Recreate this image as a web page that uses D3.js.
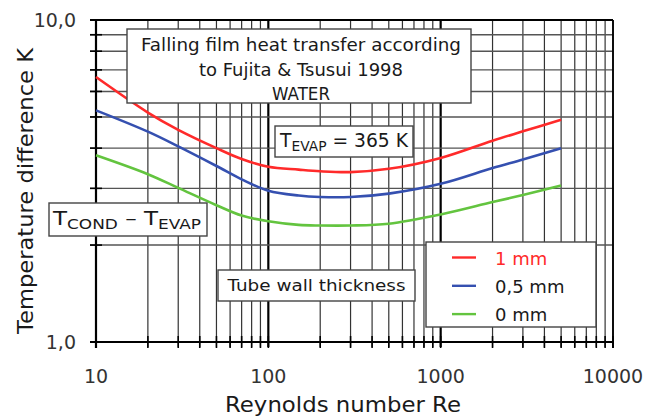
<!DOCTYPE html>
<html lang="en">
<head>
    <meta charset="UTF-8">
    <title>Falling film heat transfer</title>
    <script src="https://d3js.org/d3.v7.min.js"></script>
    <style>
        body { margin: 0; background: #fff; }
        text { font-family: "DejaVu Sans", sans-serif; fill: #1a1a1a; }
        .grid line { stroke: #333; stroke-width: 1.2; }
        .box { fill: #fff; stroke: #444; stroke-width: 1.4; }
    </style>
</head>
<body>
    <svg width="658" height="419"></svg>
    <script>
        // Reynolds numbers
        const reynolds = [10, 20, 30, 50, 70, 100, 150, 200, 300, 500, 1000, 2000, 3000, 5000];
        // temperature difference K for each tube wall thickness
        const wall1mm  = [6.65, 5.16, 4.56, 4.00, 3.70, 3.50, 3.43, 3.39, 3.37, 3.45, 3.73, 4.22, 4.51, 4.90];
        const wall05mm = [5.24, 4.50, 4.05, 3.52, 3.20, 2.95, 2.85, 2.82, 2.82, 2.89, 3.10, 3.47, 3.69, 4.00];
        const wall0mm  = [3.80, 3.32, 3.01, 2.66, 2.47, 2.37, 2.31, 2.30, 2.30, 2.33, 2.49, 2.72, 2.86, 3.06];

        const seriesNames = ["1 mm", "0,5 mm", "0 mm"];
        const seriesColors = ["#ff2a2a", "#3550b0", "#63c43f"];
        const xTickLabels = ["10", "100", "1000", "10000"];
        const yTickLabels = ["1,0", "10,0"];

        const svg = d3.select("svg");
        const x = d3.scaleLog().domain([10, 10000]).range([96, 613]);
        const y = d3.scaleLog().domain([1, 10]).range([342, 20]);

        // grid values: 1..9 in every decade
        const xGrid = [];
        for (let d = 10; d < 10000; d *= 10) for (let k = 1; k <= 9; k++) xGrid.push(d * k);
        xGrid.push(10000);
        const yGrid = [1, 2, 3, 4, 5, 6, 7, 8, 9, 10];

        const grid = svg.append("g").attr("class", "grid");
        grid.selectAll(".v").data(xGrid).join("line")
            .attr("x1", d => x(d)).attr("x2", d => x(d))
            .attr("y1", y(10)).attr("y2", y(1) + 5)
            .style("stroke-width", d => [100, 1000].includes(d) ? 2.2 : 1.2)
            .style("stroke", d => [100, 1000].includes(d) ? "#000" : "#333");
        grid.selectAll(".h").data(yGrid).join("line")
            .attr("x1", x(10) - 6).attr("x2", x(10000))
            .attr("y1", d => y(d)).attr("y2", d => y(d))
            .style("stroke", "#555").style("stroke-width", 1.4);

        // ticks
        svg.append("g").selectAll("line").data(yGrid).join("line")
            .attr("x1", x(10) - 6).attr("x2", x(10) + 6)
            .attr("y1", d => y(d)).attr("y2", d => y(d))
            .attr("stroke", "#000").attr("stroke-width", 1.6);
        svg.append("g").selectAll("line").data(xGrid).join("line")
            .attr("x1", d => x(d)).attr("x2", d => x(d))
            .attr("y1", y(1) - 6).attr("y2", y(1) + 6)
            .attr("stroke", "#000").attr("stroke-width", 1.6);

        // frame
        svg.append("line").attr("x1", x(10)).attr("x2", x(10)).attr("y1", y(10)).attr("y2", y(1) + 6)
            .attr("stroke", "#000").attr("stroke-width", 2.2);
        svg.append("line").attr("x1", x(10) - 6).attr("x2", x(10000)).attr("y1", y(1)).attr("y2", y(1))
            .attr("stroke", "#000").attr("stroke-width", 2.2);
        svg.append("line").attr("x1", x(10000)).attr("x2", x(10000)).attr("y1", y(10)).attr("y2", y(1) + 6)
            .attr("stroke", "#000").attr("stroke-width", 1.8);
        svg.append("line").attr("x1", x(10) - 6).attr("x2", x(10000)).attr("y1", y(10)).attr("y2", y(10))
            .attr("stroke", "#000").attr("stroke-width", 1.8);

        // tick labels
        svg.append("g").selectAll("text").data(xTickLabels).join("text")
            .attr("x", d => x(+d)).attr("y", 383)
            .attr("text-anchor", "middle").attr("font-size", 19)
            .style("fill", "#333")
            .text(d => d);
        svg.append("g").selectAll("text").data(yTickLabels).join("text")
            .attr("x", 76).attr("y", d => y(+d.replace(",", ".")) + 7)
            .attr("text-anchor", "end").attr("font-size", 19)
            .style("fill", "#333")
            .text(d => d);

        // axis titles
        svg.append("text").attr("x", 343).attr("y", 412)
            .attr("text-anchor", "middle").attr("font-size", 22)
            .attr("textLength", 236).attr("lengthAdjust", "spacingAndGlyphs")
            .text("Reynolds number Re");
        svg.append("text").attr("transform", "translate(33,191) rotate(-90)")
            .attr("text-anchor", "middle").attr("font-size", 22)
            .attr("textLength", 286).attr("lengthAdjust", "spacingAndGlyphs")
            .text("Temperature difference K");

        // curves
        const series = [wall1mm, wall05mm, wall0mm];
        const line = d3.line()
            .x((d, i) => x(reynolds[i]))
            .y(d => y(d))
            .curve(d3.curveCatmullRom.alpha(0.5));
        svg.append("g").selectAll("path").data(series).join("path")
            .attr("d", line)
            .attr("fill", "none")
            .attr("stroke", (d, i) => seriesColors[i])
            .attr("stroke-width", 2.6);

        // title box
        svg.append("rect").attr("class", "box")
            .attr("x", 127).attr("y", 29).attr("width", 344).attr("height", 74);
        const titleLines = ["Falling film heat transfer according", "to Fujita & Tsusui  1998", "WATER"];
        const titleWidths = [320, 204, 58];
        svg.append("g").selectAll("text").data(titleLines).join("text")
            .attr("x", 301).attr("y", (d, i) => 51 + i * 24.5)
            .attr("text-anchor", "middle").attr("font-size", 18)
            .attr("textLength", (d, i) => titleWidths[i]).attr("lengthAdjust", "spacingAndGlyphs")
            .text(d => d);

        // T_EVAP box
        svg.append("rect").attr("class", "box")
            .attr("x", 275).attr("y", 126).attr("width", 138).attr("height", 31);
        const tevap = svg.append("text").attr("x", 280).attr("y", 147).attr("font-size", 19)
            .attr("textLength", 128).attr("lengthAdjust", "spacingAndGlyphs");
        tevap.append("tspan").text("T");
        tevap.append("tspan").attr("font-size", 14).attr("dy", 4).text("EVAP");
        tevap.append("tspan").attr("dy", -4).text(" = 365 K");

        // T_COND - T_EVAP box
        svg.append("rect").attr("class", "box")
            .attr("x", 49).attr("y", 203).attr("width", 158).attr("height", 33);
        const tcond = svg.append("text").attr("x", 53).attr("y", 225).attr("font-size", 19)
            .attr("textLength", 148).attr("lengthAdjust", "spacingAndGlyphs");
        tcond.append("tspan").text("T");
        tcond.append("tspan").attr("font-size", 14).attr("dy", 4).text("COND");
        tcond.append("tspan").attr("dy", -4).text(" \u2013 T");
        tcond.append("tspan").attr("font-size", 14).attr("dy", 4).text("EVAP");

        // tube wall thickness box
        svg.append("rect").attr("class", "box")
            .attr("x", 218).attr("y", 270).attr("width", 197).attr("height", 31);
        svg.append("text").attr("x", 316.5).attr("y", 291).attr("text-anchor", "middle")
            .attr("font-size", 16).attr("textLength", 178).attr("lengthAdjust", "spacingAndGlyphs")
            .text("Tube wall thickness");

        // legend
        svg.append("rect").attr("class", "box")
            .attr("x", 426).attr("y", 242).attr("width", 170).attr("height", 85);
        const leg = svg.append("g").selectAll("g").data(seriesNames).join("g")
            .attr("transform", (d, i) => `translate(0,${257.5 + i * 28.3})`);
        leg.append("line").attr("x1", 452).attr("x2", 476)
            .attr("stroke", (d, i) => seriesColors[i]).attr("stroke-width", 2.4);
        leg.append("text").attr("x", 495).attr("y", 7).attr("font-size", 18)
            .style("fill", (d, i) => i === 0 ? seriesColors[0] : "#1a1a1a")
            .text(d => d);
    </script>
</body>
</html>
